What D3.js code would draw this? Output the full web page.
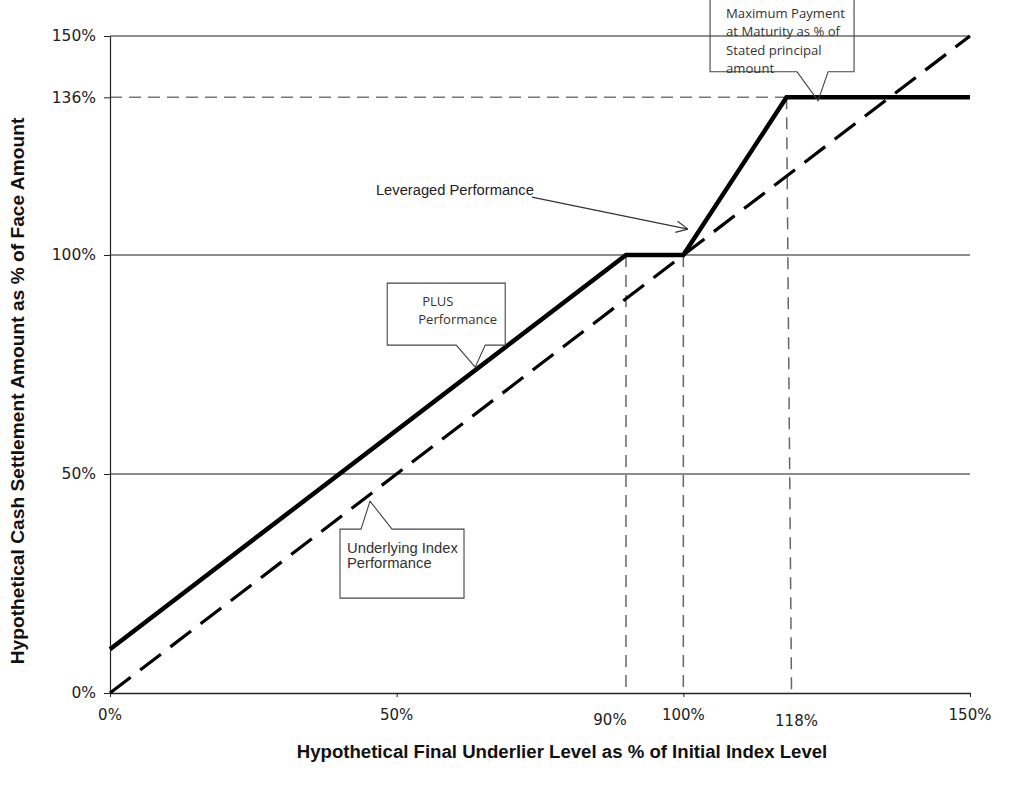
<!DOCTYPE html>
<html>
<head>
<meta charset="utf-8">
<script src="https://cdn.jsdelivr.net/npm/d3@7/dist/d3.min.js"></script>
<style>
  html, body { margin: 0; padding: 0; background: #fff; }
  svg { display: block; }
</style>
</head>
<body>
<svg id="chart" width="1014" height="790"></svg>
<script>
// ---------------- data ----------------
const underlierLevels = [0, 150];          // Underlying index performance (x)
const underlyingPerf  = [0, 150];          // Underlying index performance (y)
const plusLevels      = [0, 90, 100, 118, 150];   // PLUS performance (x)
const plusPayment     = [10, 100, 100, 136, 136]; // PLUS performance (y)
const xAxisTicks      = [0, 50, 100, 150];
const xTickLabels     = [0, 50, 90, 100, 118, 150];
const yTickValues     = [0, 50, 100, 136, 150];
const gridLevels      = [50, 100, 150];
const refLevelsX      = [90, 100, 118];     // vertical dashed reference lines
const refTopY         = [100, 100, 136];    // their top values
const maxPayment      = 136;
const xTitle = "Hypothetical Final Underlier Level as % of Initial Index Level";
const yTitle = "Hypothetical Cash Settlement Amount as % of Face Amount";

// ---------------- layout ----------------
const svg = d3.select("#chart");
const x = d3.scaleLinear().domain([0, 150]).range([110, 970]);
const y = d3.scaleLinear().domain([0, 150]).range([693, 36]);

const tickFont = "'DejaVu Sans', sans-serif";
const titleFont = "'Liberation Sans', Arial, sans-serif";

function fitText(sel, target) {
  const fs = parseFloat(sel.attr("font-size"));
  const w = sel.node().getComputedTextLength();
  const nfs = fs * target / w;
  sel.attr("font-size", nfs.toFixed(2));
  return nfs;
}

// grid lines
svg.append("g").selectAll("line").data(gridLevels).join("line")
  .attr("x1", x(0)).attr("x2", x(150))
  .attr("y1", d => y(d)).attr("y2", d => y(d))
  .attr("stroke", d => d === 150 ? "#222" : "#666")
  .attr("stroke-width", d => d === 150 ? 1.2 : 1.4);

// 136% dashed horizontal
svg.append("line")
  .attr("x1", x(0)).attr("x2", x(118))
  .attr("y1", y(maxPayment)).attr("y2", y(maxPayment))
  .attr("stroke", "#777").attr("stroke-width", 1.5)
  .attr("stroke-dasharray", "12 7");

// vertical dashed references
svg.append("g").selectAll("line").data(refLevelsX).join("line")
  .attr("x1", d => x(d)).attr("x2", (d, i) => x(d) + (i === 2 ? 5 : 0))
  .attr("y1", (d, i) => y(refTopY[i])).attr("y2", y(0))
  .attr("stroke", "#666").attr("stroke-width", 1.5)
  .attr("stroke-dasharray", "12 8");

// axes
const yAxis = svg.append("g").attr("transform", `translate(${x(0)},0)`)
  .call(d3.axisLeft(y).tickValues(yTickValues).tickSize(6).tickSizeOuter(0)
        .tickPadding(8).tickFormat(d => d + "%"));
yAxis.select(".domain").attr("stroke", "#222").attr("stroke-width", 1.2);
yAxis.selectAll(".tick line").attr("stroke", "#222");
yAxis.selectAll(".tick text").attr("font-family", tickFont).attr("font-size", 15.5)
  .attr("fill", "#222");

const xAxis = svg.append("g").attr("transform", `translate(0,${y(0)})`)
  .call(d3.axisBottom(x).tickValues(xAxisTicks).tickSize(4).tickSizeOuter(0)
        .tickFormat(""));
xAxis.select(".domain").attr("stroke", "#222").attr("stroke-width", 1.4);
xAxis.selectAll(".tick line").attr("stroke", "#222");

// custom x tick labels (with the small offsets of the original)
const xLabelShift = {90: [-16, 5], 118: [10, 6]};
svg.append("g").selectAll("text").data(xTickLabels).join("text")
  .attr("x", d => x(d) + (xLabelShift[d] ? xLabelShift[d][0] : 0))
  .attr("y", d => y(0) + 27 + (xLabelShift[d] ? xLabelShift[d][1] : 0))
  .attr("text-anchor", "middle")
  .attr("font-family", tickFont).attr("font-size", 15).attr("fill", "#222")
  .text(d => d + "%");

// underlying index (dashed)
const lineGen = d3.line().x(d => x(d[0])).y(d => y(d[1]));
svg.append("path")
  .datum(underlierLevels.map((v, i) => [v, underlyingPerf[i]]))
  .attr("d", lineGen)
  .attr("fill", "none").attr("stroke", "#000").attr("stroke-width", 3.2)
  .attr("stroke-dasharray", "26 12");

// PLUS performance (solid)
svg.append("path")
  .datum(plusLevels.map((v, i) => [v, plusPayment[i]]))
  .attr("d", lineGen)
  .attr("fill", "none").attr("stroke", "#000").attr("stroke-width", 4.5)
  .attr("stroke-linejoin", "miter");

// ---------------- callouts ----------------
function callout(ax, ay, box, fill, lines, font, fitW, textPos) {
  const px = x(ax), py = y(ay);
  const L = px + box.l, R = px + box.r, T = py + box.t, B = py + box.b;
  let d;
  if (box.b < 0) { // pointer below box
    d = `M${L},${T}L${R},${T}L${R},${B}L${px + box.br},${B}L${px},${py}L${px + box.bl},${B}L${L},${B}Z`;
  } else {         // pointer above box
    d = `M${L},${T}L${px + box.bl},${T}L${px},${py}L${px + box.br},${T}L${R},${T}L${R},${B}L${L},${B}Z`;
  }
  svg.append("path").attr("d", d).attr("fill", fill)
    .attr("stroke", "#444").attr("stroke-width", 1.1);
  const texts = lines.map((t, i) => svg.append("text")
      .attr("x", px + textPos[i][0]).attr("y", py + textPos[i][1])
      .attr("font-family", font).attr("font-size", 12).attr("fill", "#333")
      .text(t));
  const fs = fitText(texts[fitW[0]], fitW[1]);
  texts.forEach(t => t.attr("font-size", fs.toFixed(2)));
}

// Maximum payment callout
callout(123.5, 135.2, {l: -108, r: 36, t: -115, b: -29, bl: -21, br: 10}, "none",
  ["Maximum Payment", "at Maturity as % of", "Stated principal", "amount"],
  "'Open Sans', sans-serif", [0, 119],
  [[-92, -83], [-92, -65], [-92, -46], [-92, -28]]);

// PLUS performance callout
callout(63.7, 74.4, {l: -88, r: 30, t: -84, b: -22, bl: -19, br: 10}, "#fff",
  ["PLUS", "Performance"],
  "'Open Sans', sans-serif", [1, 79],
  [[-53, -61], [-57, -43]]);

// Underlying index callout
callout(45.35, 43.8, {l: -30, r: 94, t: 28, b: 97, bl: -9, br: 22}, "#fff",
  ["Underlying Index", "Performance"],
  "'Liberation Sans', Arial, sans-serif", [0, 111],
  [[-23, 52], [-23, 67]]);

// Leveraged performance label + arrow
(function () {
  const tx = x(100.8), ty = y(105.9);
  const lt = svg.append("text").attr("x", tx - 312).attr("y", ty - 34)
    .attr("font-family", "'Liberation Sans', Arial, sans-serif")
    .attr("font-size", 13).attr("fill", "#222")
    .text("Leveraged Performance");
  fitText(lt, 158);
  const sx = tx - 156, sy = ty - 32;
  svg.append("line").attr("x1", sx).attr("y1", sy).attr("x2", tx).attr("y2", ty)
    .attr("stroke", "#333").attr("stroke-width", 1.1);
  const ang = Math.atan2(ty - sy, tx - sx);
  [0.45, -0.45].forEach(a => {
    svg.append("line").attr("x1", tx).attr("y1", ty)
      .attr("x2", tx - 13 * Math.cos(ang + a)).attr("y2", ty - 13 * Math.sin(ang + a))
      .attr("stroke", "#333").attr("stroke-width", 1.1);
  });
})();

// ---------------- titles ----------------
const xt = svg.append("text")
  .attr("x", 562).attr("y", 758).attr("text-anchor", "middle")
  .attr("font-family", titleFont).attr("font-weight", "bold")
  .attr("font-size", 15).attr("fill", "#111").text(xTitle);
fitText(xt, 531);

const yt = svg.append("text")
  .attr("transform", "translate(24,391) rotate(-90)").attr("text-anchor", "middle")
  .attr("font-family", titleFont).attr("font-weight", "bold")
  .attr("font-size", 15).attr("fill", "#111").text(yTitle);
fitText(yt, 547);
</script>
</body>
</html>
